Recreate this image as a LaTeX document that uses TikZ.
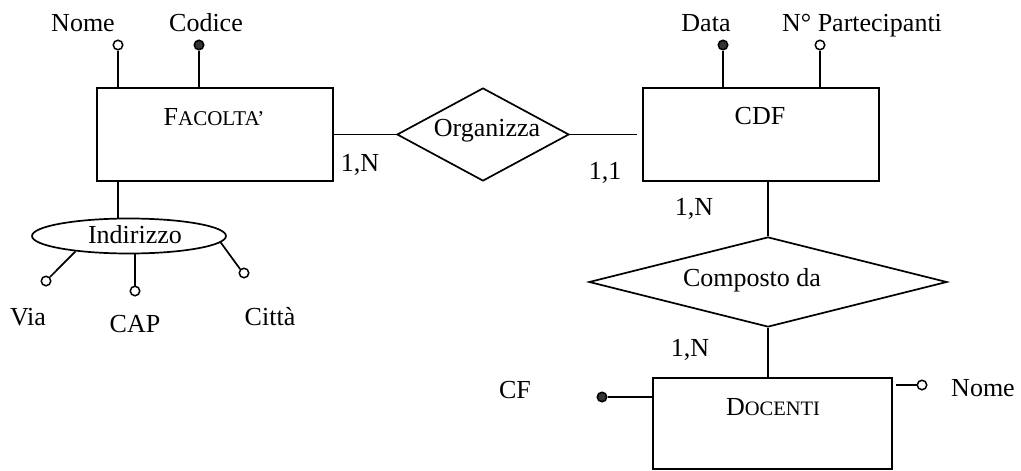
\documentclass[tikz,border=0pt]{standalone}
\usepackage{fontspec}
\setmainfont{Liberation Serif}
\usetikzlibrary{shapes.geometric}
\definecolor{idfill}{HTML}{333333}
\begin{document}
\begin{tikzpicture}[x=1pt,y=-1pt, line width=1.7pt,
  ent/.style={draw, rectangle, inner sep=0pt, line width=2pt},
  rel/.style={draw, diamond, inner sep=0pt, aspect=2},
  txt/.style={inner sep=0pt, font=\fontsize{26}{30}\selectfont, text height=17pt, text depth=0pt},
  attr/.style={draw, circle, fill=white, minimum size=9.5pt, inner sep=0pt, line width=1.5pt},
  idattr/.style={attr, fill=idfill}
]
\useasboundingbox (0,0) rectangle (1021,471);

% entities
\node[ent, minimum width=236pt, minimum height=93pt] (fac) at (215,134.5) {};
\node[ent, minimum width=236pt, minimum height=93pt] (cdf) at (761,134.5) {};
\node[ent, minimum width=239pt, minimum height=91pt] (doc) at (772.5,423.5) {};
\node[txt] (facL) at (214,117) {F{\fontsize{21}{25}\selectfont ACOLTA’}};
\node[txt] (cdfL) at (760,116) {CDF};
\node[txt] (docL) at (773,407) {D{\fontsize{20.5}{25}\selectfont OCENTI}};

% relationships
\node[rel, minimum width=172pt, minimum height=93pt] (org) at (483,134.5) {};
\node[rel, minimum width=358pt, minimum height=90pt] (comp) at (768,282) {};
\node[txt] (orgL) at (487,128) {Organizza};
\node[txt] (compL) at (752,278) {Composto da};

% composite attribute
\node[draw, ellipse, inner sep=0pt, minimum width=194pt, minimum height=35pt] (ind) at (129,236) {};
\node[txt] (indL) at (135,235) {Indirizzo};

% attribute circles
\node[attr] (nomeC) at (118,45) {};
\node[idattr] (codC) at (199,45) {};
\node[idattr] (dataC) at (723,45) {};
\node[attr] (npC) at (820,45) {};
\node[attr] (viaC) at (46,281) {};
\node[attr] (capC) at (135,291) {};
\node[attr] (citC) at (244,273) {};
\node[idattr] (cfC) at (602,397) {};
\node[attr] (n2C) at (922,385) {};

% attribute texts
\node[txt] (nomeT) at (83,23) {Nome};
\node[txt] (codT) at (206,23) {Codice};
\node[txt] (dataT) at (706,23) {Data};
\node[txt] (npT) at (862,23) {N° Partecipanti};
\node[txt] (viaT) at (28,317) {Via};
\node[txt] (capT) at (135,324) {CAP};
\node[txt] (citT) at (270,317) {Città};
\node[txt] (cfT) at (515,390) {CF};
\node[txt] (n2T) at (983,388) {Nome};

% cardinalities
\node[txt] (c1) at (360,163) {1,N};
\node[txt] (c2) at (605,171) {1,1};
\node[txt] (c3) at (694,207) {1,N};
\node[txt] (c4) at (690,348) {1,N};

% connectors
\draw (nomeC.south) -- (nomeC.south |- fac.north);
\draw (codC.south) -- (codC.south |- fac.north);
\draw (dataC.south) -- (dataC.south |- cdf.north);
\draw (npC.south) -- (npC.south |- cdf.north);
\draw (fac.east) -- (org.west);
\coordinate (cdfW) at ([xshift=-5pt]cdf.west);
\draw (org.east) -- (cdfW);
\draw (comp.north |- cdf.south) -- (comp.north);
\draw (comp.south) -- (comp.south |- doc.north);
\draw (nomeC |- fac.south) -- (nomeC |- ind.north);
\draw (ind.196) -- (viaC.45);
\draw (capC.north) -- (capC |- ind.south);
\draw (ind.-4.5) -- (citC.135);
\draw (cfC.east) -- (cfC -| doc.west);
\coordinate (docE) at ([xshift=3pt]doc.east);
\draw (docE |- n2C) -- (n2C.west);
\end{tikzpicture}
\end{document}
